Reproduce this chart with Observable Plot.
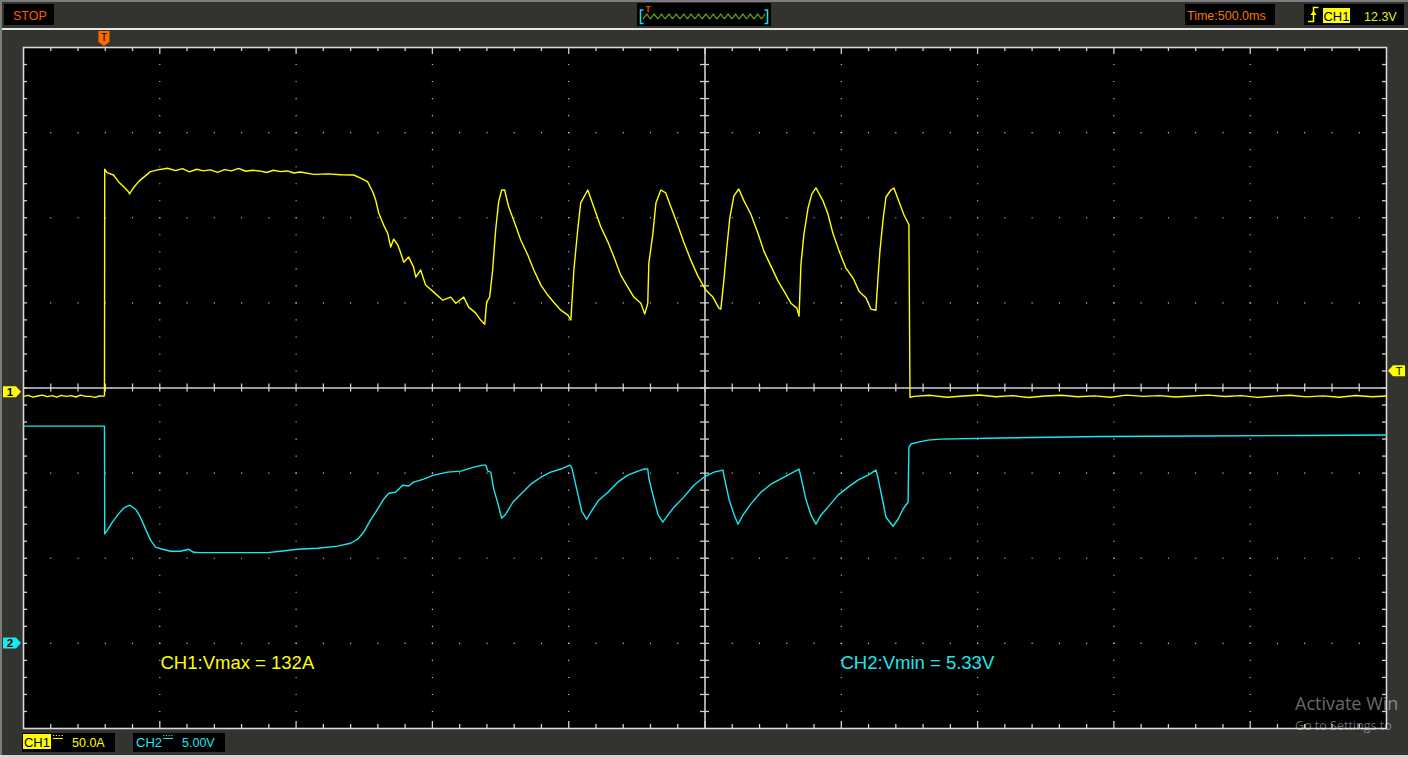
<!DOCTYPE html>
<html><head><meta charset="utf-8">
<script src="https://cdn.jsdelivr.net/npm/d3@7"></script>
<script src="https://cdn.jsdelivr.net/npm/@observablehq/plot@0.6"></script>
<style>
html,body{margin:0;padding:0;background:#333430;overflow:hidden}
#wrap{position:relative;width:1408px;height:757px}
svg{display:block}
</style></head><body><div id="wrap"></div>
<script>
// ---------- scope settings ----------
const timePerDiv = 500;      // ms / div
const ch1PerDiv = 50;        // A / div
const ch2PerDiv = 5;         // V / div
const ch1Zero = -0.05;       // div (CH1 ground marker)
const ch2Zero = -3;          // div (CH2 ground marker)
const timeStart = -297;      // ms at left edge (trigger at 0)
const triggerLevel = 12.3;   // CH1 trigger level

// ---------- labels ----------
const runState = "STOP";
const timebaseLabel = "Time:500.0ms";
const trigSource = "CH1";
const trigLevelLabel = "12.3V";
const ch1Scale = "50.0A";
const ch2Scale = "5.00V";
const measure1 = "CH1:Vmax = 132A";
const measure2 = "CH2:Vmin = 5.33V";
const watermark = ["Activate Win", "Go to Settings to"];

// ---------- CH1 samples [ms, A] ----------
const ch1Samples = [
[-297,-2.4],[-280,-1.8],[-262,-2.9],[-245,-2.2],[-228,-1.7],[-210,-2.6],[-192,-2.0],[-175,-2.9],[-158,-1.8],[-140,-2.4],
[-122,-2.0],[-105,-2.8],[-88,-1.7],[-70,-2.4],[-52,-2.4],[-35,-3.0],[-18,-2.2],[-2,-2.3],[0,-1.8],
[1,131],[10,129.0],[33,127.6],[51,123.7],[70,120.8],[88,117.8],[92,116.5],[106,120.0],[125,123.7],[150,127.1],
[169,129.6],[195,130.6],[231,131.6],[261,130.2],[286,131.4],[312,129.4],[338,131.0],[363,130.0],[389,130.6],[415,129.2],
[440,130.8],[466,130.0],[492,131.5],[518,129.8],[543,130.4],[569,130.0],[595,129.1],[620,130.4],[646,129.6],[672,130.0],
[694,128.8],[719,129.4],[767,128.0],[819,128.3],[866,127.8],[914,127.6],[940,125.8],[965,123.7],[984,117.8],[995,112.9],
[1006,105.3],[1024,98.2],[1039,93.5],[1050,85.3],[1061,90.0],[1076,86.5],[1083,83.5],[1098,76.4],[1116,79.4],[1134,73.5],
[1142,67.6],[1160,71.8],[1178,63.0],[1208,58.8],[1241,54.1],[1270,55.9],[1289,52.3],[1318,55.9],[1336,50.0],[1362,46.5],
[1380,42.4],[1395,40.0],[1402,52.9],[1413,55.9],[1424,71.8],[1435,95.3],[1446,111.8],[1457,118.8],[1468,118.8],[1483,108.8],
[1501,101.2],[1527,89.4],[1553,80.6],[1575,71.8],[1601,62.9],[1626,57.1],[1648,52.9],[1674,48.2],[1700,45.3],[1711,42.4],
[1722,71.8],[1736,95.3],[1747,111.2],[1773,118.8],[1795,108.8],[1821,97.1],[1847,88.2],[1869,79.4],[1894,68.8],[1920,61.8],
[1942,55.9],[1968,52.3],[1982,45.9],[1993,52.3],[1997,75.9],[2012,93.5],[2023,111.2],[2041,118.8],[2059,117.1],[2078,108.8],
[2103,98.2],[2125,88.2],[2151,77.6],[2177,68.2],[2206,60.0],[2232,55.9],[2254,49.4],[2261,48.8],[2272,65.3],[2283,84.7],
[2294,102.4],[2309,115.3],[2327,119.4],[2346,112.4],[2371,104.7],[2397,93.5],[2419,82.9],[2445,74.1],[2471,65.3],[2493,59.4],
[2518,52.3],[2540,49.4],[2548,44.7],[2555,75.3],[2566,92.9],[2581,108.2],[2595,116.5],[2610,120.0],[2636,112.4],[2654,104.7],
[2672,93.5],[2695,82.9],[2720,72.9],[2746,67.1],[2768,59.4],[2794,55.3],[2812,48.8],[2830,48.2],[2837,65.9],[2845,83.5],
[2856,101.2],[2867,114.7],[2885,118.8],[2896,120.0],[2915,111.8],[2933,104.1],[2948,99.4],[2951,98.2],[2955,-2.9],
[2970,-2.4],[3030,-1.8],[3090,-2.9],[3150,-2.2],[3210,-1.6],[3270,-2.6],[3330,-2.0],[3390,-3.1],[3450,-2.2],[3510,-1.8],
[3570,-2.6],[3630,-2.1],[3690,-2.9],[3750,-1.7],[3810,-2.4],[3870,-2.0],[3930,-2.8],[3990,-2.2],[4050,-1.7],[4110,-2.5],
[4170,-2.0],[4230,-3.0],[4290,-2.3],[4350,-1.8],[4410,-2.7],[4470,-2.1],[4530,-2.9],[4590,-1.9],[4650,-2.6],[4703,-2.2]
];

// ---------- CH2 samples [ms, V] ----------
const ch2Samples = [
[-297,12.76],[0,12.76],[1,6.43],[11,6.65],[29,7.12],[51,7.59],[70,7.94],[92,8.12],[114,7.88],[132,7.41],[151,6.71],
[169,6.06],[187,5.65],[213,5.53],[242,5.41],[279,5.41],[308,5.53],[327,5.35],[352,5.33],[598,5.33],[646,5.41],[708,5.53],
[782,5.59],[855,5.71],[903,5.88],[929,6.12],[951,6.53],[976,7.24],[1002,7.88],[1024,8.47],[1043,8.82],[1068,8.88],[1094,9.29],
[1116,9.24],[1134,9.47],[1171,9.65],[1208,9.88],[1259,10.06],[1307,10.12],[1355,10.35],[1388,10.47],[1399,10.47],[1406,10.12],
[1417,10.06],[1428,9.06],[1443,8.24],[1457,7.35],[1472,7.59],[1498,8.29],[1527,8.76],[1564,9.35],[1601,9.76],[1637,10.06],
[1674,10.24],[1707,10.47],[1714,10.35],[1729,9.29],[1751,7.76],[1769,7.29],[1791,7.88],[1813,8.41],[1847,8.88],[1883,9.47],
[1920,9.88],[1957,10.12],[1979,10.24],[1993,10.24],[1997,9.71],[2012,8.71],[2030,7.59],[2048,7.12],[2067,7.53],[2089,8.00],
[2125,8.59],[2162,9.29],[2199,9.76],[2236,10.06],[2269,10.18],[2272,9.88],[2291,8.47],[2309,7.59],[2324,7.00],[2342,7.53],
[2371,8.18],[2408,8.88],[2445,9.35],[2493,9.76],[2548,10.24],[2555,9.76],[2573,8.47],[2592,7.53],[2610,7.00],[2628,7.53],
[2654,8.00],[2691,8.71],[2728,9.18],[2764,9.59],[2801,9.88],[2830,10.18],[2837,9.76],[2856,8.29],[2867,7.41],[2893,6.88],
[2911,7.29],[2929,7.88],[2948,8.29],[2951,11.53],[2959,11.71],[2985,11.82],[3021,11.94],[3069,12.00],[3289,12.06],[3656,12.15],
[4023,12.18],[4391,12.21],[4703,12.24]
];

// ---------- layout ----------
const W = 1408, H = 757;
const mL = 23, mR = 22, mT = 47, mB = 29;
const plotW = W - mL - mR, plotH = H - mT - mB;
const timeEnd = timeStart + 10 * timePerDiv;
const msPerPx = (timeEnd - timeStart) / plotW;
const divPerPx = 8 / plotH;
const xCenter = timeStart + 5 * timePerDiv;

const minorX = d3.range(1, 50).map(k => timeStart + k * timePerDiv / 5);
const majorXInner = d3.range(1, 10).filter(k => k !== 5).map(k => timeStart + k * timePerDiv);
const minorXMajor = d3.range(1, 10).map(k => timeStart + k * timePerDiv);
const minorXMinor = d3.range(1, 50).filter(k => k % 5 !== 0).map(k => timeStart + k * timePerDiv / 5);
const minorY = d3.range(-19, 20).map(k => k / 5);
const majorYInner = [-3, -2, -1, 1, 2, 3];

const gridDots = [];
for (const gx of majorXInner) for (const gy of minorY) gridDots.push({x: gx, y: gy});
for (const gy of majorYInner) for (const gx of minorX) gridDots.push({x: gx, y: gy});

const tickY4 = 4 * divPerPx, tickY7 = 7 * divPerPx, tickX4 = 4 * msPerPx, tickXc = 4.5 * msPerPx;
const gridCol = "#d0d0d0";
const ch1Col = "#ffff00", ch2Col = "#1ae8f0";
const font = "Liberation Sans, Arial, sans-serif";

const chart = Plot.plot({
  width: W, height: H,
  marginLeft: mL, marginRight: mR, marginTop: mT, marginBottom: mB,
  x: {domain: [timeStart, timeEnd], axis: null},
  y: {domain: [-4, 4], axis: null},
  style: {background: "#333430", fontFamily: font, overflow: "hidden"},
  marks: [
    Plot.frame({fill: "#000", stroke: "none"}),
    Plot.dot(gridDots, {x: "x", y: "y", r: 0.62, symbol: "square", fill: gridCol, stroke: "none"}),
    Plot.ruleX([xCenter], {stroke: gridCol, strokeWidth: 1.6}),
    Plot.ruleY([0], {stroke: gridCol, strokeWidth: 1.6}),
    Plot.ruleX(minorX, {x: d => d, y1: -tickY4, y2: tickY4, stroke: gridCol, strokeWidth: 1.3}),
    Plot.ruleY(minorY, {y: d => d, x1: xCenter - tickXc, x2: xCenter + tickXc, stroke: gridCol, strokeWidth: 1.3}),
    Plot.ruleX(minorXMinor, {x: d => d, y1: 4, y2: 4 - tickY4, stroke: gridCol, strokeWidth: 1.3}),
    Plot.ruleX(minorXMajor, {x: d => d, y1: 4, y2: 4 - tickY7, stroke: gridCol, strokeWidth: 1.3}),
    Plot.ruleX(minorXMinor, {x: d => d, y1: -4, y2: -4 + tickY4, stroke: gridCol, strokeWidth: 1.3}),
    Plot.ruleX(minorXMajor, {x: d => d, y1: -4, y2: -4 + tickY7, stroke: gridCol, strokeWidth: 1.3}),
    Plot.ruleY(minorY, {y: d => d, x1: timeStart, x2: timeStart + tickX4, stroke: gridCol, strokeWidth: 1.3}),
    Plot.ruleY(minorY, {y: d => d, x1: timeEnd, x2: timeEnd - tickX4, stroke: gridCol, strokeWidth: 1.3}),
    Plot.frame({stroke: "#d8d8d8", strokeWidth: 1.6}),
    Plot.line(ch2Samples, {x: d => d[0], y: d => d[1] / ch2PerDiv + ch2Zero, stroke: ch2Col, strokeWidth: 1.4}),
    Plot.line(ch1Samples, {x: d => d[0], y: d => d[1] / ch1PerDiv + ch1Zero, stroke: ch1Col, strokeWidth: 1.4}),
    Plot.text([measure1], {frameAnchor: "bottom-left", dx: 137, dy: -65, textAnchor: "start", lineAnchor: "middle", fill: ch1Col, fontSize: 18.5}),
    Plot.text([measure2], {frameAnchor: "bottom-left", dx: 817, dy: -65, textAnchor: "start", lineAnchor: "middle", fill: ch2Col, fontSize: 18.5})
  ]
});

document.getElementById("wrap").appendChild(chart);

// ---------- scope chrome ----------
const sx = v => chart.scale("x").apply(v);
const sy = v => chart.scale("y").apply(v);
const svg = d3.select(chart);
const g = svg.append("g").attr("font-family", font).attr("text-anchor", "start");
const txt = (x, y, s, fill, size, anchor = "start", weight = "normal") =>
  g.append("text").attr("x", x).attr("y", y).attr("fill", fill).attr("font-size", size)
   .attr("text-anchor", anchor).attr("font-weight", weight).text(s);
const rect = (x, y, w, h, fill) => g.append("rect").attr("x", x).attr("y", y).attr("width", w).attr("height", h).attr("fill", fill);

// borders
rect(0, 0, W, 2, "#7c7c7c");
rect(0, 0, 2, H, "#7c7c7c");
rect(2, 28, W - 2, 2, "#e8e8e8");
rect(0, 755, W, 2, "#d6d6d6");

// top bar
rect(4, 4, 50, 21, "#000");
txt(13, 20, runState, "#ff5a0a", 12.5);

rect(637, 3, 134, 23, "#000");
const defs = svg.append("defs");
const pat = defs.append("pattern").attr("id", "zig").attr("patternUnits", "userSpaceOnUse")
  .attr("x", 643).attr("y", 12).attr("width", 7.4).attr("height", 9);
pat.append("path").attr("d", "M0,7 L3.7,2 L7.4,7").attr("fill", "none").attr("stroke", "#84d21e").attr("stroke-width", 1);
rect(643, 12, 122, 9, "url(#zig)");
g.append("path").attr("d", "M643.5,10 H640.5 V23.5 H643.5").attr("fill", "none").attr("stroke", "#00e8ff").attr("stroke-width", 1.5);
g.append("path").attr("d", "M764.5,10 H767.5 V23.5 H764.5").attr("fill", "none").attr("stroke", "#00e8ff").attr("stroke-width", 1.5);
txt(648, 11.5, "T", "#e8460a", 9, "middle", "bold");

rect(1185, 4, 90, 21, "#000");
txt(1187, 20, timebaseLabel, "#f07800", 12.5);

rect(1304, 4, 100, 21, "#000");
g.append("path").attr("d", "M1308,21.5 H1313.5 V7.5 H1318.5").attr("fill", "none").attr("stroke", ch1Col).attr("stroke-width", 1.5);
g.append("path").attr("d", "M1310.5,15 L1313.5,10.5 L1316.5,15 Z").attr("fill", ch1Col);
rect(1323, 8, 27, 15, ch1Col);
txt(1336.5, 20.5, trigSource, "#000", 13, "middle");
txt(1364, 20.5, trigLevelLabel, "#e4ee1e", 12.5);

// bottom bar
rect(22, 733, 93, 19, "#000");
rect(23, 734, 28, 15, ch1Col);
txt(37, 746.5, "CH1", "#000", 13, "middle");
g.append("path").attr("d", "M53,735.5 H63").attr("stroke", ch1Col).attr("stroke-dasharray", "1.2,1.6").attr("stroke-width", 1);
g.append("path").attr("d", "M53,738.5 H63").attr("stroke", ch1Col).attr("stroke-width", 1);
txt(72, 746.5, ch1Scale, ch1Col, 12.5);

rect(133, 733, 92, 19, "#000");
txt(136, 746.5, "CH2", ch2Col, 13);
g.append("path").attr("d", "M163,735.5 H173").attr("stroke", ch2Col).attr("stroke-dasharray", "1.2,1.6").attr("stroke-width", 1);
g.append("path").attr("d", "M163,738.5 H173").attr("stroke", ch2Col).attr("stroke-width", 1);
txt(182, 746.5, ch2Scale, ch2Col, 12.5);

// markers
const tx = sx(0);
g.append("path").attr("d", `M${tx-5.5},31 H${tx+5.5} V42 L${tx},46 L${tx-5.5},42 Z`).attr("fill", "#ff6a00");
txt(tx, 41, "T", "#000", 10.5, "middle");

function leftMarker(cy, fill, label) {
  g.append("path").attr("d", `M3,${cy-5.5} H16 L21,${cy} L16,${cy+5.5} H3 Z`).attr("fill", fill);
  txt(10, cy + 4.2, label, "#000", 11.5, "middle", "bold");
}
leftMarker(sy(ch1Zero), ch1Col, "1");
leftMarker(sy(ch2Zero), ch2Col, "2");

const ty = sy(ch1Zero + triggerLevel / ch1PerDiv);
g.append("path").attr("d", `M1405,${ty-5.5} H1393 L1388,${ty} L1393,${ty+5.5} H1405 Z`).attr("fill", ch1Col);
txt(1399, ty + 4.2, "T", "#000", 11, "middle");

// watermark (as visible in the screenshot)
g.append("text").attr("x", 1295).attr("y", 710).attr("fill", "#fff").attr("fill-opacity", 0.42)
  .attr("text-anchor", "start").attr("font-family", "Open Sans, Noto Sans, sans-serif").attr("font-size", 18).text(watermark[0]);
g.append("text").attr("x", 1295).attr("y", 730).attr("fill", "#fff").attr("fill-opacity", 0.42)
  .attr("text-anchor", "start").attr("font-family", "Open Sans, Noto Sans, sans-serif").attr("font-size", 12.5).text(watermark[1]);
</script>
</body></html>
